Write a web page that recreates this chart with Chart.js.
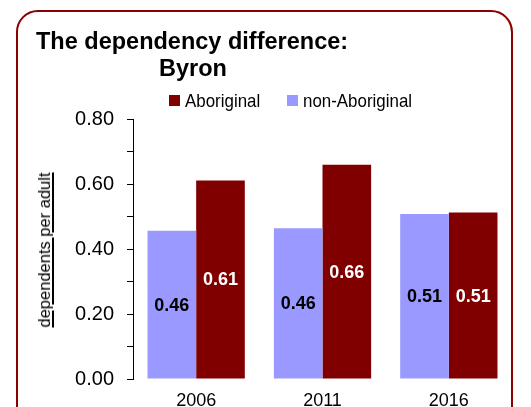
<!DOCTYPE html>
<html>
<head>
<meta charset="utf-8">
<script src="https://cdn.jsdelivr.net/npm/chart.js@4/dist/chart.umd.min.js"></script>
<style>
  html, body { margin: 0; padding: 0; width: 531px; height: 407px; overflow: hidden; background: #fff; }
  body { position: relative; font-family: Arial, "Liberation Sans", sans-serif; color: #000; }
  #card { position: absolute; left: 16px; top: 10px; width: 497px; height: 430px; border: 2px solid #8b0000; border-radius: 22px; box-sizing: border-box; }
  #wrap { position: absolute; left: 0; top: 0; width: 531px; height: 410px; }
  .title { position: absolute; font-weight: bold; font-size: 23.5px; line-height: 27px; white-space: nowrap; }
  #legend { position: absolute; left: 0; top: 0; }
  .leg-box { position: absolute; width: 11px; height: 11px; }
  .leg-text { position: absolute; font-size: 19px; line-height: 20px; white-space: nowrap; transform: scaleX(0.89); transform-origin: left center; }
  #ytitle { position: absolute; left: 44px; top: 250px; font-size: 16.5px; line-height: 18px; white-space: nowrap; text-decoration: underline; text-decoration-thickness: 1.5px; text-underline-offset: 2px; transform: translate(-50%, -50%) rotate(-90deg); }
</style>
</head>
<body>
<div id="card"></div>
<div id="wrap"><canvas id="chart"></canvas></div>
<div class="title" style="left:36px; top:28px;">The dependency difference:</div>
<div class="title" style="left:159px; top:55px;">Byron</div>
<div id="legend"></div>
<div id="ytitle">dependents per adult</div>
<script>
const anos = ["2006", "2011", "2016"];
const aborigine = [0.611, 0.659, 0.512];
const naoAborigine = [0.456, 0.464, 0.508];
const rotulosSerie = ["non-Aboriginal", "Aboriginal"];
const coresSerie = ["#9999ff", "#800000"];
const coresRotulo = ["#000000", "#ffffff"];
const ticksY = [0, 0.1, 0.2, 0.3, 0.4, 0.5, 0.6, 0.7, 0.8];

const fonte = "Arial, 'Liberation Sans', sans-serif";

// rotulos de valor no meio de cada barra
const rotulosBarras = {
  id: "rotulosBarras",
  afterDatasetsDraw(chart) {
    const ctx = chart.ctx;
    chart.data.datasets.forEach((ds, i) => {
      chart.getDatasetMeta(i).data.forEach((barra, j) => {
        const p = barra.getProps(["x", "y", "base"], true);
        ctx.save();
        ctx.font = "bold 18px " + fonte;
        ctx.fillStyle = coresRotulo[i];
        ctx.textAlign = "center";
        ctx.textBaseline = "middle";
        ctx.fillText(ds.data[j].toFixed(2), p.x, (p.y + p.base) / 2 + 1);
        ctx.restore();
      });
    });
  }
};

const grafico = new Chart(document.getElementById("chart"), {
  type: "bar",
  data: {
    labels: anos,
    datasets: [
      { label: rotulosSerie[0], data: naoAborigine, backgroundColor: coresSerie[0] },
      { label: rotulosSerie[1], data: aborigine, backgroundColor: coresSerie[1] }
    ]
  },
  options: {
    responsive: true,
    maintainAspectRatio: false,
    animation: false,
    categoryPercentage: 0.77,
    barPercentage: 1,
    layout: { padding: { top: 119, right: 19, bottom: 0, left: 0 } },
    plugins: {
      legend: { display: false },
      tooltip: { enabled: false }
    },
    scales: {
      x: {
        grid: { display: false, drawTicks: false },
        border: { display: false },
        ticks: { color: "#000", font: { family: fonte, size: 18 }, padding: 11 },
        afterFit: s => { s.height = 31; }
      },
      y: {
        min: 0,
        max: 0.8,
        afterBuildTicks: s => { s.ticks = ticksY.map(v => ({ value: v })); },
        grid: { drawOnChartArea: false, drawTicks: true, tickLength: 6, color: "#000" },
        border: { display: true, color: "#000", width: 1 },
        ticks: {
          color: "#000",
          font: { family: fonte, size: 20 },
          padding: 13,
          callback: v => (Math.round(v * 10) % 2 === 0 ? v.toFixed(2) : "")
        },
        afterFit: s => { s.width = 133; }
      }
    }
  },
  plugins: [rotulosBarras]
});

// legenda em HTML, montada a partir dos datasets (Aboriginal primeiro)
const legenda = document.getElementById("legend");
const posLegenda = [{ box: 169, text: 185 }, { box: 287, text: 303 }];
grafico.data.datasets.slice().reverse().forEach((ds, k) => {
  const caixa = document.createElement("div");
  caixa.className = "leg-box";
  caixa.style.left = posLegenda[k].box + "px";
  caixa.style.top = "95px";
  caixa.style.background = ds.backgroundColor;
  const txt = document.createElement("div");
  txt.className = "leg-text";
  txt.style.left = posLegenda[k].text + "px";
  txt.style.top = "91px";
  txt.textContent = ds.label;
  legenda.appendChild(caixa);
  legenda.appendChild(txt);
});
</script>
</body>
</html>
